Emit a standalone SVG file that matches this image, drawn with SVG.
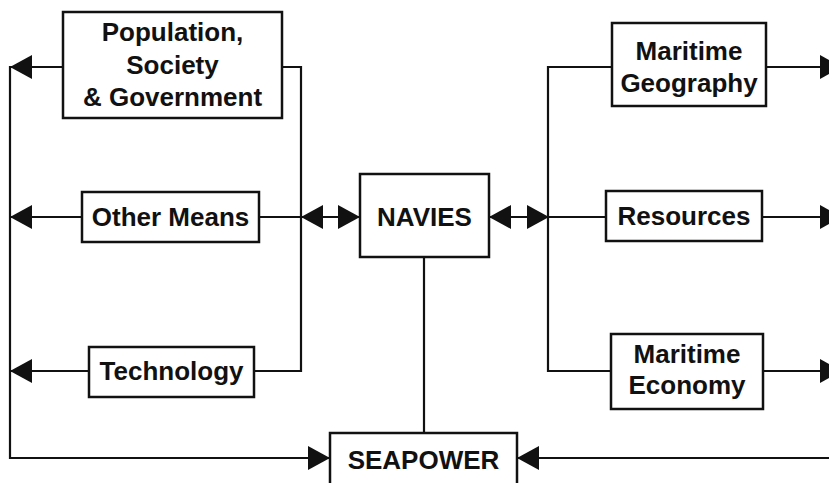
<svg xmlns="http://www.w3.org/2000/svg" width="829" height="483" viewBox="0 0 829 483">
<style>
.box{fill:#fff;stroke:#111;stroke-width:2.5}
.ln{fill:none;stroke:#111;stroke-width:2.2}
.t{font-family:"Liberation Sans",Arial,Helvetica,sans-serif;font-weight:bold;font-size:26px;fill:#111;text-anchor:middle}
.ah{fill:#111}
</style>
<defs>
<path id="ar" d="M0,0 L-22,-12 L-22,12 Z"/>
</defs>
<rect width="829" height="483" fill="#fff"/>
<g id="connectors">
<path class="ln" d="M63,67 H10 V458 H330"/>
<path class="ln" d="M82,217 H10"/>
<path class="ln" d="M89,371 H10"/>
<path class="ln" d="M282,67 H301 V371 H254"/>
<path class="ln" d="M259,217 H360"/>
<path class="ln" d="M489,217 H548"/>
<path class="ln" d="M612,67 H548 V371 H611"/>
<path class="ln" d="M548,217 H606"/>
<path class="ln" d="M766,67 H829"/>
<path class="ln" d="M762,217 H829"/>
<path class="ln" d="M763,371 H829"/>
<path class="ln" d="M424,257 V433"/>
<path class="ln" d="M517,458 H829"/>
<use href="#ar" class="ah" transform="translate(10,67) rotate(180)"/>
<use href="#ar" class="ah" transform="translate(10,217) rotate(180)"/>
<use href="#ar" class="ah" transform="translate(10,371) rotate(180)"/>
<use href="#ar" class="ah" transform="translate(301,217) rotate(180)"/>
<use href="#ar" class="ah" transform="translate(360,217)"/>
<use href="#ar" class="ah" transform="translate(489,217) rotate(180)"/>
<use href="#ar" class="ah" transform="translate(549,217)"/>
<use href="#ar" class="ah" transform="translate(842,67)"/>
<use href="#ar" class="ah" transform="translate(842,217)"/>
<use href="#ar" class="ah" transform="translate(842,371)"/>
<use href="#ar" class="ah" transform="translate(330,458)"/>
<use href="#ar" class="ah" transform="translate(517,458) rotate(180)"/>
</g>
<g id="population">
<rect class="box" x="63" y="12" width="219" height="106"/>
<text class="t" x="172.5" y="41">Population,</text>
<text class="t" x="172.5" y="74">Society</text>
<text class="t" x="172.5" y="106">&amp; Government</text>
</g>
<g id="other-means">
<rect class="box" x="82" y="192" width="177" height="50"/>
<text class="t" x="170.5" y="226">Other Means</text>
</g>
<g id="technology">
<rect class="box" x="89" y="347" width="165" height="50"/>
<text class="t" x="171.5" y="380">Technology</text>
</g>
<g id="navies">
<rect class="box" x="360" y="174" width="129" height="83"/>
<text class="t" x="424.5" y="226">NAVIES</text>
</g>
<g id="maritime-geography">
<rect class="box" x="612" y="23" width="154" height="83"/>
<text class="t" x="689" y="60">Maritime</text>
<text class="t" x="689" y="92">Geography</text>
</g>
<g id="resources">
<rect class="box" x="606" y="191" width="156" height="50"/>
<text class="t" x="684" y="225">Resources</text>
</g>
<g id="maritime-economy">
<rect class="box" x="611" y="334" width="152" height="75"/>
<text class="t" x="687" y="363">Maritime</text>
<text class="t" x="687" y="394">Economy</text>
</g>
<g id="seapower">
<rect class="box" x="330" y="433" width="187" height="60"/>
<text class="t" x="423.5" y="469">SEAPOWER</text>
</g>
</svg>
